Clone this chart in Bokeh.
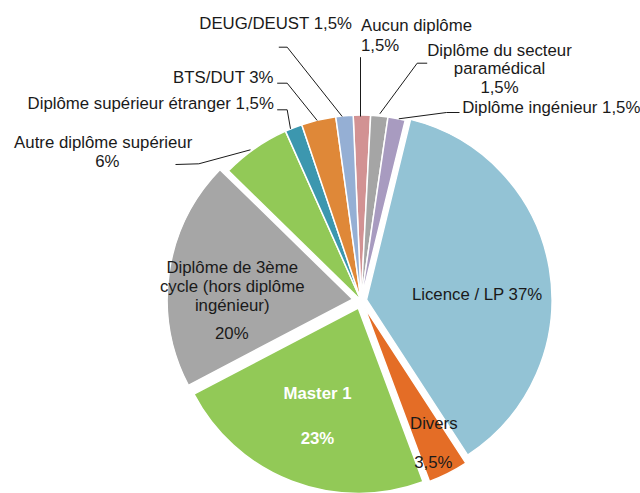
import numpy as np
from bokeh.plotting import figure
from bokeh.models import Range1d, ColumnDataSource
from bokeh.core.properties import value
from bokeh.embed import file_html
from bokeh.resources import INLINE

# ---- data (clockwise from top) ----
categories = ["Aucun diplôme", "Diplôme du secteur paramédical", "Diplôme ingénieur",
              "Licence / LP", "Divers", "Master 1",
              "Diplôme de 3ème cycle (hors diplôme ingénieur)", "Autre diplôme supérieur",
              "Diplôme supérieur étranger", "BTS/DUT", "DEUG/DEUST"]
values = [1.5, 1.5, 1.5, 37, 3.5, 23, 20, 6, 1.5, 3, 1.5]
value_labels = ["1,5%", "1,5%", "1,5%", "37%", "3,5%", "23%", "20%", "6%", "1,5%", "3%", "1,5%"]

# ---- style ----
colors = ["#D29293", "#A5A5A5", "#A89BC0", "#93C3D5", "#E46D26", "#92C957",
          "#A6A6A6", "#92C957", "#3C97AF", "#DF8838", "#95AFD4"]
explode = [0, 0, 0, 5.5, 8, 8, 8.5, 0, 0, 0, 0]

W, H = 640, 493
def X(xi):
    return xi
def Y(yi):
    return H - yi

cx, cy, R = X(360.6), Y(300), 185.5
start_deg = -2.45

vals = np.array(values, dtype=float)
frac = vals / vals.sum()
th2 = start_deg + np.cumsum(frac) * 360.0
th1 = th2 - frac * 360.0
thm = np.radians((th1 + th2) / 2)
ex = np.array(explode, dtype=float)
xs = cx + ex * np.sin(thm)
ys = cy + ex * np.cos(thm)
src = ColumnDataSource(dict(x=xs, y=ys,
                            start=np.radians(90 - th2), end=np.radians(90 - th1),
                            color=colors))

p = figure(width=W, height=H, output_backend="svg", toolbar_location=None,
           x_range=Range1d(0, W), y_range=Range1d(0, H),
           x_axis_type=None, y_axis_type=None, min_border=0)
p.outline_line_color = None
p.background_fill_color = "white"

p.wedge(x="x", y="y", radius=R, start_angle="start", end_angle="end",
        direction="anticlock", fill_color="color", line_color="white",
        line_width=1.5, source=src)

# ---- leader lines (image coordinates) ----
leaders = [
    [(278.3, 46.7), (286.7, 46.7), (341.7, 116)],
    [(360, 56.7), (360, 116)],
    [(426.7, 62.7), (416.7, 62.7), (379.3, 113.3)],
    [(398.3, 118.3), (446, 112), (459, 112)],
    [(276.7, 82.7), (286.7, 82.7), (316.7, 120)],
    [(276.7, 109.3), (286.7, 109.3), (290, 128.3)],
    [(175, 164), (198.3, 163.3), (250, 149.3)],
]
p.multi_line(xs=[[X(a) for a, b in L] for L in leaders],
             ys=[[Y(b) for a, b in L] for L in leaders],
             line_color="#1a1a1a", line_width=1)

FONT = value("Liberation Sans")
FS = "16.8px"
TXT = "#1a1a1a"

def put(lines, x, y, align="center", color=TXT, bold=False, spacing=19.5):
    for i, t in enumerate(lines):
        p.text(x=[X(x)], y=[Y(y + i * spacing)], text=[t], text_font=FONT,
               text_font_size=FS, text_align=align, text_baseline="middle",
               text_color=color, text_font_style="bold" if bold else "normal")

put([f"{categories[10]} {value_labels[10]}"], 351.7, 23, align="right")
put([categories[0], value_labels[0]], 360.5, 24.5, align="left", spacing=20.5)
put(["Diplôme du secteur", "paramédical", value_labels[1]], 499, 49.5, spacing=18.8)
put([f"{categories[2]} {value_labels[2]}"], 461.7, 106.5, align="left")
put([f"{categories[9]} {value_labels[9]}"], 273.3, 76.7, align="right")
put([f"{categories[8]} {value_labels[8]}"], 273.3, 103.3, align="right")
put([categories[7]], 102.7, 141.7)
put([value_labels[7]], 106.8, 160.5)
put([f"{categories[3]} {value_labels[3]}"], 476.7, 294)
put([categories[4]], 433.3, 423.3)
put([value_labels[4]], 432.8, 461.7)
put([categories[5]], 317, 393.3, color="white", bold=True)
put([value_labels[5]], 317, 438.3, color="white", bold=True)
put(["Diplôme de 3ème", "cycle (hors diplôme", "ingénieur)"], 231.7, 267.3, spacing=18.9)
put([value_labels[6]], 231.3, 332.7)

open("out.html", "w").write(file_html(p, INLINE))
